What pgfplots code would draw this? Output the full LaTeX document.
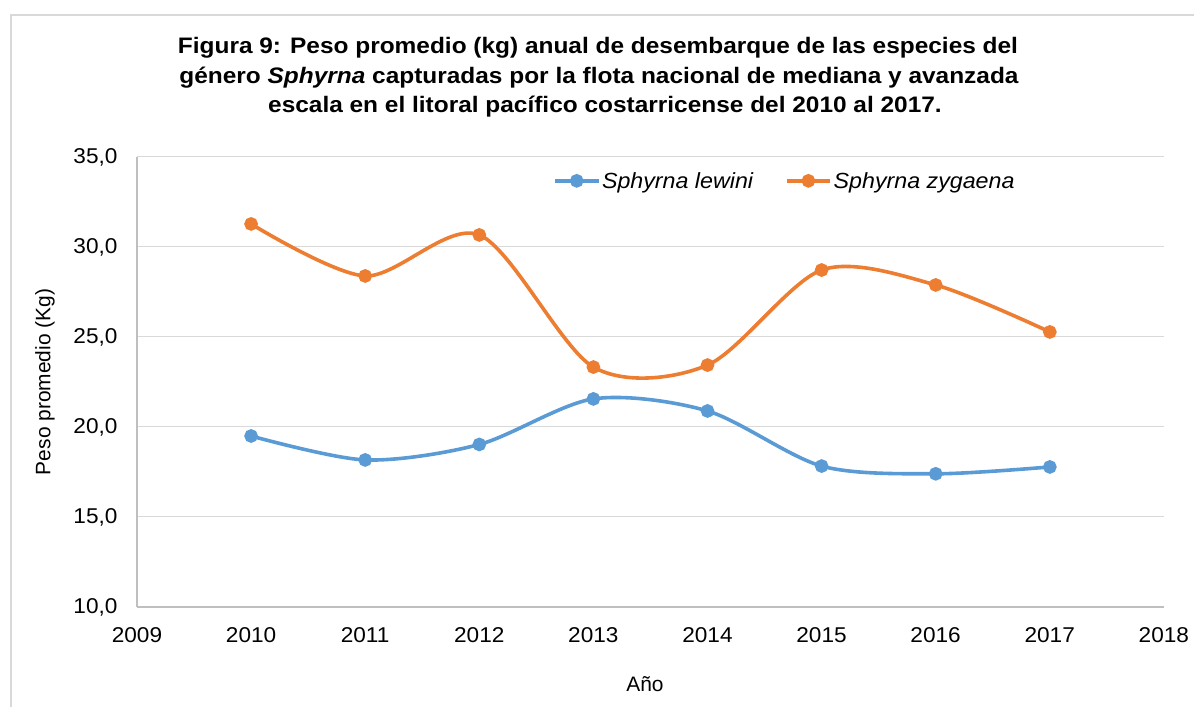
\documentclass[border=0pt]{standalone}
\usepackage{pgfplots}
\pgfplotsset{compat=1.18}
\usepackage{fontspec}
\setmainfont{Liberation Sans}
\newfontfamily\titlefont[FakeStretch=1.09]{Liberation Sans}
\newfontfamily\tickfont[FakeStretch=1.055]{Liberation Sans}
\newfontfamily\legfont[FakeStretch=1.06]{Liberation Sans}
\definecolor{sblue}{HTML}{5B9BD5}
\definecolor{sorange}{HTML}{ED7D31}
\definecolor{gridc}{HTML}{D9D9D9}
\definecolor{axc}{HTML}{BFBFBF}
\definecolor{framec}{HTML}{D9D9D9}
\begin{document}
\begin{tikzpicture}[x=1bp,y=1bp]
\draw[framec, line width=1.5bp] (11,-20) rectangle (1215,692);
\node[anchor=base, font=\titlefont\bfseries\fontsize{22.5}{26}\selectfont] at (598,707-54) {Figura 9: Peso promedio (kg) anual de desembarque de las especies del};
\node[anchor=base, font=\titlefont\bfseries\fontsize{22.5}{26}\selectfont] at (599,707-83.5) {género \textit{Sphyrna} capturadas por la flota nacional de mediana y avanzada};
\node[anchor=base, font=\titlefont\bfseries\fontsize{22.5}{26}\selectfont] at (605,707-113) {escala en el litoral pacífico costarricense del 2010 al 2017.};
\begin{axis}[
  at={(137bp,100bp)}, anchor=south west,
  width=1027bp, height=450bp, scale only axis,
  xmin=2009, xmax=2018, ymin=10, ymax=35,
  xtick={2009,...,2018}, ytick={10,15,...,35},
  axis x line=bottom, axis y line=left,
  axis line style={-, axc, line width=1.2bp},
  major tick length=0pt,
  ymajorgrids, grid style={gridc, line width=1bp},
  tick label style={font=\tickfont\fontsize{21.5}{24}\selectfont},
  /pgf/number format/assume math mode=true,
  x tick label style={/pgf/number format/1000 sep={}, yshift=-17bp},
  y tick label style={/pgf/number format/.cd, use comma, fixed, fixed zerofill, precision=1, /tikz/.cd, xshift=-16bp},
  xlabel={Año}, ylabel={Peso promedio (Kg)},
  label style={font=\fontsize{21}{24}\selectfont},
  xlabel style={at={(axis description cs:0.4946,-0.171)}, anchor=center},
  ylabel style={at={(axis description cs:-0.0896,0.5)}, anchor=center, rotate=0},
  legend style={at={(axis description cs:0.631,0.947)}, anchor=center, draw=none, fill=none,
    legend columns=2, font=\legfont\itshape\fontsize{22}{24}\selectfont,
    /tikz/every even column/.append style={column sep=30bp}},
  legend image code/.code={\draw[#1, mark repeat=2, mark phase=2] plot coordinates {(0bp,0bp) (21.5bp,0bp) (43bp,0bp)};},
  clip=false,
]
\addplot[sblue, line width=3.6bp, smooth, mark=*, mark size=5bp, mark options={solid, fill=sblue, draw=none}] coordinates {
(2010,19.50) (2011,18.17) (2012,19.03) (2013,21.56) (2014,20.89) (2015,17.83) (2016,17.40) (2017,17.78)};
\addlegendentry{Sphyrna lewini}
\addplot[sorange, line width=3.6bp, smooth, mark=*, mark size=5bp, mark options={solid, fill=sorange, draw=none}] coordinates {
(2010,31.28) (2011,28.39) (2012,30.67) (2013,23.33) (2014,23.44) (2015,28.72) (2016,27.89) (2017,25.28)};
\addlegendentry{Sphyrna zygaena}
\end{axis}
\pgfresetboundingbox
\path[use as bounding box] (0,0) rectangle (1194,707);
\end{tikzpicture}
\end{document}
